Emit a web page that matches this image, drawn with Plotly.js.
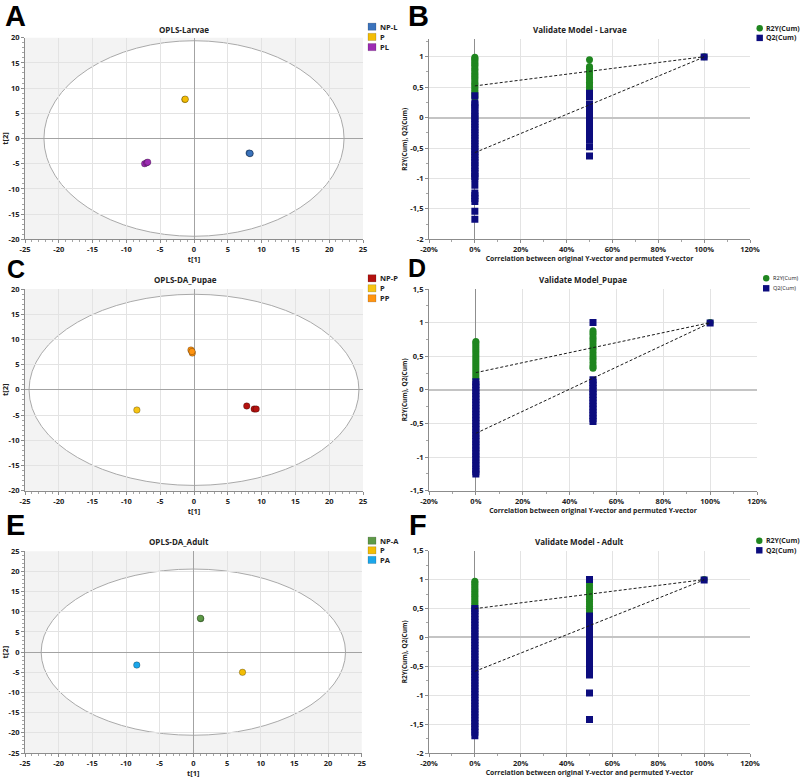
<!DOCTYPE html>
<html><head><meta charset="utf-8">
<script src="https://cdn.plot.ly/plotly-3.0.1.min.js"></script>
<style>html,body{margin:0;padding:0;background:#fff}</style>
</head><body>
<div id="chart" style="width:800px;height:778px"></div>
<script>
// ===================== DATA =====================
// --- Score plots (t[1] vs t[2]) ---
const larvaeGroups = ["NP-L", "P", "PL"];
const larvaeColors = ["#3b73bc", "#f3bd05", "#9c2cb2"];
const larvaeT1 = [[8.15, 8.3, 8.25], [-1.35, -1.3], [-7.3, -7.0, -6.85]];
const larvaeT2 = [[-2.9, -3.0, -2.95], [7.75, 7.8], [-5.0, -4.8, -4.7]];
const larvaeEllipse = [22.2, 19.4];

const pupaeGroups = ["NP-P", "P", "PP"];
const pupaeColors = ["#b3120f", "#f7c414", "#ff9411"];
const pupaeT1 = [[7.8, 8.9, 9.2], [-8.45], [-0.45, -0.25, -0.3]];
const pupaeT2 = [[-3.2, -3.8, -3.8], [-4.0], [7.9, 7.3, 7.6]];
const pupaeEllipse = [24.4, 18.95];

const adultGroups = ["NP-A", "P", "PA"];
const adultColors = ["#5e9a48", "#f3bd05", "#1ba6ea"];
const adultT1 = [[1.1, 1.05], [7.3], [-8.4]];
const adultT2 = [[8.3, 8.4], [-5.0], [-3.2]];
const adultEllipse = [22.6, 20.6];

// --- Permutation validation plots ---
const corrLevels = [0, 0.5, 1];   // correlation original vs permuted Y
const larvaeR2 = [
  [0.99,0.97,0.95,0.93,0.9,0.88,0.86,0.83,0.8,0.78,0.75,0.72,0.7,0.67,0.65,0.62,0.59,0.56,0.54,0.51,0.48,0.45,0.42,0.39,0.36,0.33],
  [0.95,0.84,0.81,0.77,0.74,0.7,0.66,0.62,0.58,0.55,0.51,0.47,0.44],
  [1.0]];
const larvaeQ2 = [
  [0.36,0.24,0.21,0.16,0.11,0.06,0.02,-0.02,-0.07,-0.11,-0.16,-0.2,-0.25,-0.29,-0.34,-0.38,-0.43,-0.47,-0.52,-0.56,-0.61,-0.65,-0.7,-0.74,-0.79,-0.83,-0.88,-0.92,-0.97,-1.0,-1.11,-1.24,-1.28,-1.33,-1.38,-1.54,-1.67],
  [0.4,0.37,0.34,0.22,0.18,0.13,0.08,0.04,-0.01,-0.06,-0.1,-0.15,-0.2,-0.24,-0.29,-0.33,-0.37,-0.48,-0.63],
  [0.995]];
const larvaeIntercepts = [0.52, -0.576];   // R2, Q2

const pupaeR2 = [
  [0.72,0.7,0.67,0.64,0.61,0.58,0.55,0.52,0.49,0.46,0.43,0.4,0.37,0.34,0.31,0.28,0.25,0.22,0.19,0.16],
  [0.88,0.85,0.82,0.78,0.75,0.71,0.67,0.63,0.6,0.56,0.52,0.48,0.45,0.41,0.37,0.34,0.32],
  [1.0]];
const pupaeQ2 = [
  [0.12,0.08,0.04,-0.01,-0.05,-0.1,-0.14,-0.19,-0.23,-0.28,-0.32,-0.37,-0.41,-0.46,-0.5,-0.55,-0.59,-0.64,-0.68,-0.73,-0.77,-0.82,-0.86,-0.91,-0.95,-1.0,-1.04,-1.09,-1.13,-1.18,-1.22,-1.25],
  [1.0,0.15,0.11,0.07,0.02,-0.02,-0.07,-0.11,-0.16,-0.2,-0.25,-0.29,-0.34,-0.38,-0.43,-0.47],
  [0.995]];
const pupaeIntercepts = [0.256, -0.647];

const adultR2 = [
  [0.97,0.95,0.92,0.89,0.86,0.83,0.8,0.77,0.74,0.71,0.68,0.65,0.62,0.59,0.56,0.53,0.5],
  [0.94,0.9,0.86,0.82,0.78,0.74,0.7,0.66,0.62,0.58,0.54,0.5,0.46,0.42,0.38],
  [1.0]];
const adultQ2 = [
  [0.5,0.46,0.41,0.36,0.31,0.26,0.21,0.16,0.11,0.06,0.01,-0.04,-0.09,-0.14,-0.19,-0.24,-0.29,-0.34,-0.39,-0.44,-0.49,-0.54,-0.59,-0.64,-0.69,-0.74,-0.79,-0.84,-0.89,-0.94,-0.99,-1.04,-1.09,-1.14,-1.19,-1.24,-1.29,-1.34,-1.39,-1.44,-1.49,-1.54,-1.59,-1.64,-1.7],
  [1.0,0.37,0.33,0.28,0.23,0.18,0.13,0.08,0.03,-0.02,-0.07,-0.12,-0.17,-0.22,-0.27,-0.32,-0.37,-0.42,-0.47,-0.52,-0.57,-0.62,-0.65,-0.96,-1.42],
  [0.995]];
const adultIntercepts = [0.497, -0.588];

// --- Tick labels ---
const scoreTicks = [-25,-20,-15,-10,-5,0,5,10,15,20,25];
const scoreTickText = ["-25","-20","-15","-10","-5","0","5","10","15","20","25"];
const corrTicks = [-0.2,0,0.2,0.4,0.6,0.8,1.0,1.2];
const corrTickText = ["-20%","0%","20%","40%","60%","80%","100%","120%"];
const valTicks = [-2,-1.5,-1,-0.5,0,0.5,1,1.5];
const valTickText = ["-2","-1,5","-1","-0,5","0","0,5","1","1,5"];

const seriesNames = ["R2Y(Cum)", "Q2(Cum)"];
const seriesColors = ["#1f861f", "#0c0c7e"];

// ===================== BUILD =====================
const W = 800, H = 778;
const FONT = "Open Sans, Noto Sans, sans-serif";
const px = x => x / W;
const py = y => 1 - y / H;

const traces = [];
const shapes = [];
const annotations = [];

function scoreTraces(sub, groups, colors, t1, t2) {
  groups.forEach((g, i) => {
    traces.push({
      type: "scatter", mode: "markers", name: g,
      x: t1[i], y: t2[i], xaxis: "x" + sub, yaxis: "y" + sub,
      marker: {color: colors[i], size: 6.5, line: {color: "rgba(0,0,0,0.45)", width: 0.6}},
      showlegend: false, hoverinfo: "skip"
    });
  });
}
function valTraces(sub, r2, q2, icpt) {
  [r2, q2].forEach((ser, s) => {
    const xs = [], ys = [];
    ser.forEach((vals, k) => vals.forEach(v => { xs.push(corrLevels[k]); ys.push(v); }));
    traces.push({
      type: "scatter", mode: "markers", name: seriesNames[s],
      x: xs, y: ys, xaxis: "x" + sub, yaxis: "y" + sub,
      marker: {color: seriesColors[s], size: 7, symbol: s === 0 ? "circle" : "square"},
      showlegend: false, hoverinfo: "skip"
    });
  });
  [r2, q2].forEach((ser, s) => {
    traces.push({
      type: "scatter", mode: "lines",
      x: [corrLevels[0], corrLevels[2]], y: [icpt[s], ser[2][0]],
      xaxis: "x" + sub, yaxis: "y" + sub,
      line: {color: "#1a1a1a", width: 1, dash: "3px,2px"},
      showlegend: false, hoverinfo: "skip"
    });
  });
}

scoreTraces("", larvaeGroups, larvaeColors, larvaeT1, larvaeT2);
valTraces("2", larvaeR2, larvaeQ2, larvaeIntercepts);
scoreTraces("3", pupaeGroups, pupaeColors, pupaeT1, pupaeT2);
valTraces("4", pupaeR2, pupaeQ2, pupaeIntercepts);
scoreTraces("5", adultGroups, adultColors, adultT1, adultT2);
valTraces("6", adultR2, adultQ2, adultIntercepts);

// background + ellipse for score plots
function scoreShapes(sub, ell) {
  const xr = "x" + sub, yr = "y" + sub;
  shapes.push({type: "rect", xref: xr + " domain", yref: yr + " domain", x0: 0, x1: 1, y0: 0, y1: 1,
    fillcolor: "#f3f3f3", line: {width: 0}, layer: "below"});
  shapes.push({type: "circle", xref: xr, yref: yr, x0: -ell[0], x1: ell[0], y0: -ell[1], y1: ell[1],
    fillcolor: "#ffffff", line: {color: "#a9a9a9", width: 1}, layer: "below"});
}
scoreShapes("", larvaeEllipse);
scoreShapes("3", pupaeEllipse);
scoreShapes("5", adultEllipse);

// legends (drawn as swatches + text)
function boxLegend(x0, yTop, step, groups, colors) {
  groups.forEach((g, i) => {
    const yc = yTop + i * step;
    shapes.push({type: "rect", xref: "paper", yref: "paper",
      x0: px(x0), x1: px(x0 + 8), y0: py(yc + 3.6), y1: py(yc - 3.6),
      fillcolor: colors[i], line: {color: "rgba(0,0,0,0.25)", width: 0.6}});
    annotations.push({xref: "paper", yref: "paper", x: px(x0 + 10), y: py(yc), xanchor: "left", yanchor: "middle",
      text: g, showarrow: false, font: {family: FONT, size: 7.5, color: "#222", weight: "bold"}});
  });
}
function serLegend(xc, yTop, step, bold, fs) {
  seriesNames.forEach((g, i) => {
    const yc = yTop + i * step;
    shapes.push({type: i === 0 ? "circle" : "rect", xref: "paper", yref: "paper",
      x0: px(xc - 3.2), x1: px(xc + 3.2), y0: py(yc + 3.2), y1: py(yc - 3.2),
      fillcolor: seriesColors[i], line: {width: 0}});
    annotations.push({xref: "paper", yref: "paper", x: px(xc + 4.5), y: py(yc), xanchor: "left", yanchor: "middle",
      text: g, showarrow: false, font: {family: FONT, size: fs, color: "#222", weight: bold ? "bold" : "normal"}});
  });
}
boxLegend(368, 26.7, 10.2, larvaeGroups, larvaeColors);
serLegend(759.7, 28.3, 9.6, true, 7);
boxLegend(368, 278.3, 10, pupaeGroups, pupaeColors);
serLegend(766.2, 278.3, 10, false, 5.6);
boxLegend(368, 540.7, 9.6, adultGroups, adultColors);
serLegend(759.3, 540.7, 9.6, true, 7);

// titles and panel letters
const titles = [
  ["OPLS-Larvae", 183.7, 29.3], ["Validate Model - Larvae", 579.5, 29.3],
  ["OPLS-DA_Pupae", 185.5, 279.3], ["Validate Model_Pupae", 583.3, 279.3],
  ["OPLS-DA_Adult", 179, 541.3], ["Validate Model - Adult", 579, 541.3]];
titles.forEach(t => annotations.push({xref: "paper", yref: "paper", x: px(t[1]), y: py(t[2]),
  xanchor: "center", yanchor: "middle", text: t[0], showarrow: false,
  font: {family: FONT, size: 8, color: "#222", weight: "bold"}}));
const letters = [["A", 15.5, 16, 29], ["B", 418.5, 16, 29], ["C", 16, 269, 25], ["D", 417, 268, 25], ["E", 15.5, 525, 29], ["F", 418, 525, 29]];
letters.forEach(t => annotations.push({xref: "paper", yref: "paper", x: px(t[1]), y: py(t[2]),
  xanchor: "center", yanchor: "middle", text: t[0], showarrow: false,
  font: {family: "Liberation Sans, Arial, sans-serif", size: t[3], color: "#000", weight: "bold"}}));

// axes
const tickFont = {family: FONT, size: 7.5, color: "#222", weight: "bold"};
const titleFont = {family: FONT, size: 7.5, color: "#222", weight: "bold"};
function ax(extra) {
  return Object.assign({
    showgrid: true, gridcolor: "#e3e3e3", gridwidth: 1,
    showline: true, linecolor: "#8c8c8c", linewidth: 1,
    ticks: "outside", ticklen: 3, tickcolor: "#8c8c8c",
    minor: {ticks: "outside", ticklen: 2, tickcolor: "#a5a5a5", showgrid: false},
    tickfont: tickFont, zeroline: true, zerolinecolor: "#a3a3a3", zerolinewidth: 1,
    fixedrange: true, automargin: false
  }, extra);
}
function scoreX(dom, anchor) {
  return ax({domain: dom, anchor: anchor, range: [-25, 25], tickvals: scoreTicks, ticktext: scoreTickText,
    title: {text: "t[1]", font: titleFont, standoff: 2}});
}
function scoreY(dom, anchor, lim) {
  const tv = scoreTicks.filter(v => Math.abs(v) <= lim);
  return ax({domain: dom, anchor: anchor, range: [-lim, lim], tickvals: tv,
    ticktext: tv.map(v => scoreTickText[scoreTicks.indexOf(v)]),
    title: {text: "t[2]", font: titleFont, standoff: 2}});
}
function valX(dom, anchor) {
  return ax({domain: dom, anchor: anchor, range: [-0.2, 1.2], tickvals: corrTicks, ticktext: corrTickText,
    zerolinecolor: "#8f8f8f",
    title: {text: "Correlation between original Y-vector and permuted Y-vector", font: {family: FONT, size: 6.8, color: "#222", weight: "bold"}, standoff: 2}});
}
function valY(dom, anchor, lo, hi) {
  const tv = valTicks.filter(v => v >= lo - 1e-9 && v <= hi + 1e-9);
  return ax({domain: dom, anchor: anchor, range: [lo, hi], tickvals: tv,
    ticktext: tv.map(v => valTickText[valTicks.indexOf(v)]),
    zerolinecolor: "#c4c4c4", zerolinewidth: 2,
    title: {text: "R2Y(Cum), Q2(Cum)", font: {family: FONT, size: 6.5, color: "#222", weight: "bold"}, standoff: 2}});
}

const dA = [px(25), px(363)], dB = [px(429), px(750)], dD = [px(429), px(757)], dE = [px(25), px(361.7)];
const yRow1 = [py(239.3), py(37.7)], yRow1b = [py(239.3), py(39.3)];
const yRow2 = [py(490.7), py(289)];
const yRow3 = [py(753), py(551.3)], yRow3b = [py(753), py(550.7)];

const layout = {
  width: W, height: H, margin: {l: 0, r: 0, t: 0, b: 0},
  paper_bgcolor: "#ffffff", plot_bgcolor: "#ffffff",
  showlegend: false, hovermode: false,
  xaxis: scoreX(dA, "y"), yaxis: scoreY(yRow1, "x", 20),
  xaxis2: valX(dB, "y2"), yaxis2: valY(yRow1b, "x2", -2, 1.286),
  xaxis3: scoreX(dA, "y3"), yaxis3: scoreY(yRow2, "x3", 20),
  xaxis4: valX(dD, "y4"), yaxis4: valY(yRow2, "x4", -1.5, 1.5),
  xaxis5: scoreX(dE, "y5"), yaxis5: scoreY(yRow3, "x5", 25),
  xaxis6: valX(dB, "y6"), yaxis6: valY(yRow3b, "x6", -2, 1.5),
  shapes: shapes, annotations: annotations
};
layout.yaxis2.minor.dtick = 0.25; layout.yaxis4.minor.dtick = 0.25; layout.yaxis6.minor.dtick = 0.25;
["xaxis2","xaxis4","xaxis6"].forEach(k => layout[k].minor.dtick = 0.1);
["xaxis","xaxis3","xaxis5","yaxis","yaxis3","yaxis5"].forEach(k => layout[k].minor.dtick = 1);

Plotly.newPlot("chart", traces, layout, {staticPlot: true, displayModeBar: false});
</script>
</body></html>
